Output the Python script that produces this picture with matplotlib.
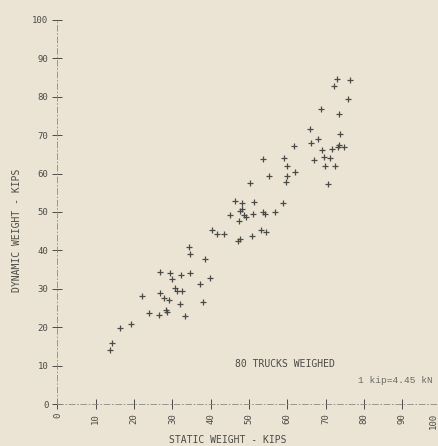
'''
静的重量と動的重量の散布図
'''

from matplotlib import pyplot as plt
from matplotlib import transforms

# 読み取った値 (kips)
static_weight = [13.8, 14.2, 16.3, 19.1, 22.1, 24.0, 26.6, 26.7, 26.8, 27.9,
                 28.4, 28.5, 29.0, 29.3, 29.8, 30.7, 31.3, 32.1, 32.3, 32.5,
                 33.2, 34.4, 34.5, 34.7, 37.3, 38.0, 38.5, 39.9, 40.4, 41.6,
                 43.5, 45.0, 46.4, 47.0, 47.7, 47.4, 47.7, 48.1, 48.3, 48.7,
                 49.2, 50.2, 50.9, 51.0, 51.4, 53.2, 53.6, 54.2, 54.5, 53.6,
                 55.3, 56.7, 58.8, 59.1, 59.7, 59.9, 59.9, 61.7, 62.1, 65.8,
                 66.2, 67.1, 67.9, 68.8, 69.0, 69.7, 69.8, 70.6, 71.1, 71.6,
                 72.2, 72.4, 73.1, 73.3, 73.4, 73.6, 73.7, 74.8, 75.9, 76.5]
dynamic_weight = [14.0, 15.8, 19.7, 20.9, 28.1, 23.6, 23.1, 29.0, 34.5, 27.5,
                  24.5, 24.0, 27.1, 34.2, 32.6, 30.1, 29.3, 26.0, 33.7, 29.3,
                  23.0, 40.8, 39.1, 34.0, 31.3, 26.5, 37.8, 32.9, 45.2, 44.3,
                  44.3, 49.1, 52.8, 42.5, 43.0, 47.7, 50.3, 50.8, 52.3, 49.1,
                  48.7, 57.5, 43.7, 49.5, 52.5, 45.3, 49.9, 49.4, 44.9, 63.8,
                  59.3, 50.0, 52.4, 64.1, 57.8, 59.5, 61.9, 67.1, 60.5, 71.5,
                  67.9, 63.5, 69.0, 76.8, 66.1, 64.2, 62.1, 57.3, 64.1, 66.4,
                  82.7, 61.9, 84.6, 66.8, 75.4, 67.4, 70.4, 67.0, 79.3, 84.3]
ticks = list(range(0, 101, 10))

BG = '#ebe4d4'
INK = '#4a4a46'
MONO = 'DejaVu Sans Mono'


def create_chart():
    fig = plt.figure(figsize=(4.39, 4.46), dpi=100, facecolor=BG)
    ax = fig.add_axes([57.5 / 439, 42 / 446, 383 / 439, 384 / 446])
    ax.set_facecolor(BG)
    ax.set_xlim(0, 100)
    ax.set_ylim(0, 100)

    ax.plot(static_weight, dynamic_weight, '+', color=INK,
            markersize=5, markeredgewidth=0.9, clip_on=False)

    for side in ('top', 'right'):
        ax.spines[side].set_visible(False)
    for side in ('left', 'bottom'):
        ax.spines[side].set_color('#8a8a84')
        ax.spines[side].set_linewidth(0.6)
        ax.spines[side].set_linestyle((0, (7, 3, 1, 3)))

    ax.set_xticks(ticks)
    ax.set_yticks(ticks)
    ax.set_xticklabels([str(t) for t in ticks], rotation=90,
                       fontsize=6.5, family=MONO, color=INK)
    ax.set_yticklabels([str(t) for t in ticks],
                       fontsize=6.5, family=MONO, color=INK)
    ax.tick_params(direction='inout', length=7, width=0.7, color=INK, pad=3)

    # 端の「100」が切れないよう少し左へ
    last = ax.get_xticklabels()[-1]
    last.set_transform(last.get_transform() +
                       transforms.ScaledTranslation(-7 / 100, 0, fig.dpi_scale_trans))

    fig.text(228 / 439, 6 / 446, 'STATIC WEIGHT - KIPS', ha='center',
             va='center', fontsize=7, family=MONO, color=INK)
    fig.text(17 / 439, (446 - 230) / 446, 'DYNAMIC WEIGHT - KIPS', ha='center',
             va='center', rotation=90, fontsize=7, family=MONO, color=INK)

    ax.text(46.4, 10.4, '80 TRUCKS WEIGHED', ha='left', va='center',
            fontsize=7, family=MONO, color=INK)
    ax.text(78.4, 6.0, '1 kip=4.45 kN', ha='left', va='center',
            fontsize=6.8, family='Liberation Mono', color='#6a6a64')

    fig.savefig('out.png', dpi=100, facecolor=BG)


if __name__ == '__main__':
    create_chart()
